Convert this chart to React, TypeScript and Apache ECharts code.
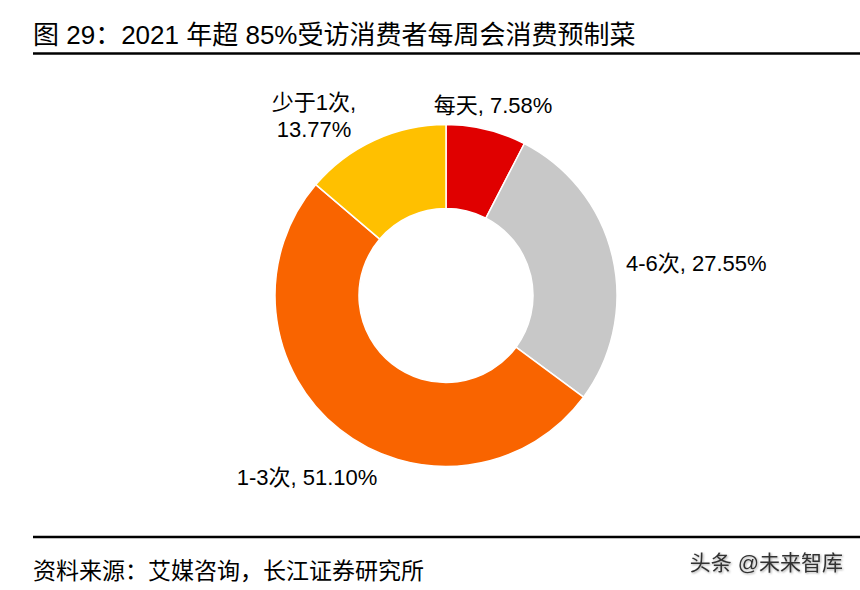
import React, { useEffect, useRef } from "react";
import * as echarts from "echarts";

const categories = ["每天", "4-6次", "1-3次", "少于1次"];
const shares = [7.58, 27.55, 51.1, 13.77];
const colors = ["#E00000", "#C8C8C8", "#F96400", "#FFC000"];
const wrapLabel = [false, false, false, true];

const titleText = "图 29：2021 年超 85%受访消费者每周会消费预制菜";
const sourceText = "资料来源：艾媒咨询，长江证券研究所";
const watermarkText = "头条 @未来智库";

// label anchor positions (centre of each label block)
const labelPos: [number, number, string][] = [
  [493, 105, "center"],
  [626, 263, "left"],
  [307, 477, "center"],
  [314, 116, "center"],
];

const FONT = '"Liberation Sans", Arial, "Noto Sans CJK SC", sans-serif';

export default function App() {
  const ref = useRef<HTMLDivElement>(null);
  useEffect(() => {
    if (!ref.current) return;
    const chart = echarts.init(ref.current, null, { renderer: "svg" });
    chart.setOption({
      animation: false,
      backgroundColor: "#ffffff",
      textStyle: { fontFamily: FONT },
      series: [
        {
          type: "pie",
          center: [446, 295.5],
          radius: [87, 171],
          startAngle: 90,
          clockwise: true,
          avoidLabelOverlap: false,
          itemStyle: { borderColor: "#ffffff", borderWidth: 1.5 },
          label: {
            show: true,
            position: "outside",
            color: "#000",
            fontSize: 22,
            fontFamily: FONT,
            lineHeight: 27,
            formatter: (p: any) => {
              const v = shares[p.dataIndex].toFixed(2) + "%";
              return wrapLabel[p.dataIndex] ? `${p.name},\n${v}` : `${p.name}, ${v}`;
            },
          },
          labelLine: { show: false },
          labelLayout: (p: any) => {
            const pos = labelPos[p.dataIndex];
            return { x: pos[0], y: pos[1], align: pos[2], verticalAlign: "middle" };
          },
          emphasis: { disabled: true },
          data: categories.map((c, i) => ({
            name: c,
            value: shares[i],
            itemStyle: { color: colors[i] },
          })),
        },
      ],
      graphic: [
        {
          type: "text",
          x: 33,
          y: 35,
          style: {
            text: titleText,
            fontSize: 26,
            fontFamily: FONT,
            fill: "#000",
            verticalAlign: "middle",
          },
        },
        {
          type: "line",
          shape: { x1: 33, y1: 53.5, x2: 860, y2: 53.5 },
          style: { stroke: "#000", lineWidth: 2.5 },
        },
        {
          type: "line",
          shape: { x1: 33, y1: 537, x2: 860, y2: 537 },
          style: { stroke: "#000", lineWidth: 2.5 },
        },
        {
          type: "text",
          x: 33,
          y: 571,
          style: {
            text: sourceText,
            fontSize: 23,
            fontFamily: FONT,
            fill: "#000",
            verticalAlign: "middle",
          },
        },
        {
          type: "text",
          x: 843,
          y: 562,
          style: {
            text: watermarkText,
            fontSize: 21,
            fontFamily: FONT,
            fill: "#333",
            align: "right",
            verticalAlign: "middle",
            textShadowColor: "rgba(0,0,0,0.35)",
            textShadowBlur: 2,
            textShadowOffsetX: 1,
            textShadowOffsetY: 1,
          },
        },
      ],
    });
    return () => chart.dispose();
  }, []);
  return (
    <div
      ref={ref}
      style={{ position: "absolute", left: 0, top: 0, width: 860, height: 590 }}
    />
  );
}
